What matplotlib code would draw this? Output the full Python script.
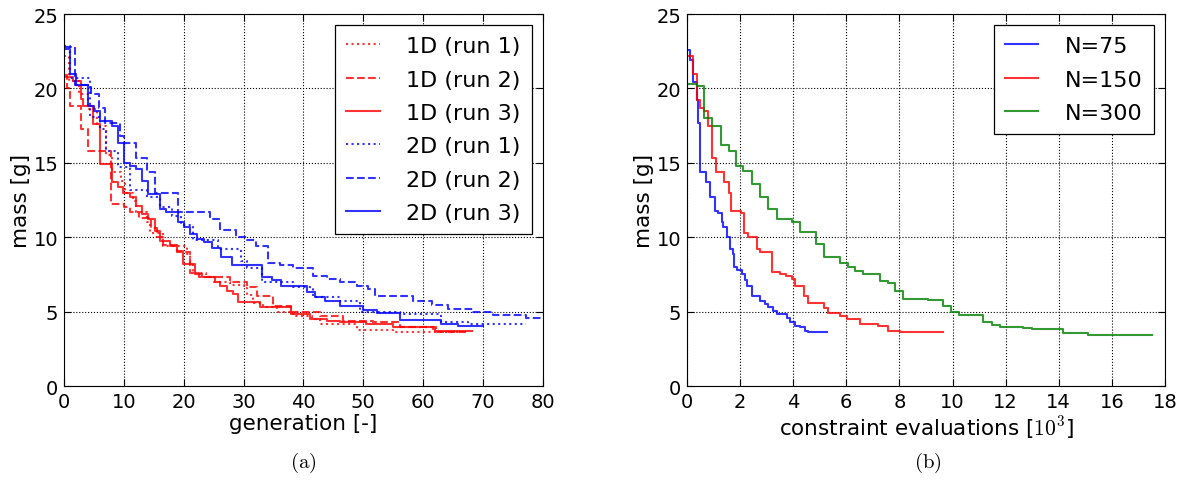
import matplotlib
matplotlib.use('Agg')
import matplotlib.pyplot as plt

plt.rcParams['mathtext.fontset'] = 'cm'

# (a) mass vs generation, 1D and 2D runs
gen_1d_r1 = [0, 0.8, 2.5, 4.0, 5.5, 7.0, 8.0, 9.5, 10.2, 11.5, 12.1, 13.8, 14.3, 16.6, 20.5, 21.0, 21.6,
             23.8, 25.0, 27.7, 30.0, 30.6, 31.5, 33.3, 35.5, 38.3, 41.5, 42.7, 49.0, 55.0, 66.0]
mass_1d_r1 = [22.2, 20.5, 19.6, 18.6, 17.5, 15.5, 14.4, 13.8, 13.0, 12.4, 11.7, 11.0, 10.3, 9.4, 8.9, 8.1, 7.6,
              7.3, 7.0, 6.8, 6.6, 6.1, 5.6, 5.3, 5.0, 4.7, 4.5, 4.15, 3.75, 3.6, 3.6]

gen_1d_r2 = [0, 0.5, 1.0, 2.9, 4.1, 7.9, 10.0, 11.0, 12.5, 14.5, 15.5, 16.5, 18.8, 21.0, 22.5, 27.7, 30.5,
             32.2, 34.9, 38.0, 42.7, 46.6, 51.6, 56.1, 62.2, 67.2]
mass_1d_r2 = [20.9, 20.0, 18.8, 17.3, 15.8, 12.2, 12.0, 11.7, 11.3, 10.6, 10.0, 9.5, 9.0, 7.6, 7.3, 7.0, 6.65,
              6.05, 5.4, 5.0, 4.7, 4.4, 4.3, 3.95, 3.6, 3.6]

gen_1d_r3 = [0, 1.5, 2.9, 3.2, 4.9, 6.0, 8.0, 9.1, 9.9, 11.0, 12.1, 13.0, 14.1, 15.2, 16.0, 17.7, 18.8, 19.9,
             21.9, 23.0, 25.2, 26.0, 27.2, 28.3, 29.1, 32.7, 38.0, 41.1, 43.9, 46.1, 50.5, 55.0, 61.7, 62.0, 68.1]
mass_1d_r3 = [20.8, 20.5, 19.3, 18.8, 17.6, 14.9, 13.7, 13.4, 13.0, 12.7, 12.1, 11.55, 11.2, 10.4, 9.75, 9.4,
              9.1, 8.2, 7.5, 7.3, 7.0, 6.7, 6.4, 6.2, 5.65, 5.3, 4.85, 4.5, 4.4, 4.3, 4.2, 3.95, 3.8, 3.7, 3.7]

gen_2d_r1 = [0, 1.0, 4.3, 6.0, 7.1, 9.1, 11.0, 13.8, 16.0, 18.0, 19.5, 21.5, 25.8, 29.5, 30.5, 33.0, 38.3,
             41.6, 46.1, 49.5, 56.1, 63.0, 67.5, 77.2]
mass_2d_r1 = [22.85, 20.7, 18.1, 17.3, 15.8, 14.7, 13.2, 12.7, 12.0, 11.4, 10.8, 9.8, 9.2, 8.4, 7.9, 7.0, 6.65,
              6.0, 5.7, 5.0, 4.85, 4.3, 4.2, 4.2]

gen_2d_r2 = [0, 1.8, 4.5, 5.8, 6.8, 9.4, 10.0, 12.0, 13.9, 15.2, 19.1, 24.4, 26.0, 28.8, 30.5, 32.0, 34.1,
             36.1, 38.3, 41.6, 43.9, 46.1, 48.9, 50.8, 51.9, 58.3, 61.4, 64.2, 68.3, 71.7, 77.2, 80.0]
mass_2d_r2 = [22.8, 20.2, 19.6, 18.7, 17.7, 16.8, 16.3, 15.3, 14.4, 13.0, 11.7, 11.2, 10.5, 10.0, 9.8, 9.4, 8.3,
              8.1, 7.9, 7.4, 7.2, 7.0, 6.7, 6.5, 6.05, 5.7, 5.45, 5.2, 4.95, 4.8, 4.55, 4.55]

gen_2d_r3 = [0, 1.0, 2.0, 4.1, 5.1, 6.0, 8.1, 9.1, 10.0, 11.0, 12.1, 13.0, 14.1, 16.0, 17.0, 19.1, 20.0, 21.0,
             22.3, 23.4, 24.8, 26.2, 28.1, 33.1, 34.8, 36.2, 40.6, 41.9, 43.6, 46.1, 50.0, 52.2, 56.1, 63.0,
             65.8, 70.0]
mass_2d_r3 = [22.65, 21.0, 20.2, 18.8, 18.5, 17.8, 17.5, 16.3, 15.0, 14.8, 14.6, 13.8, 12.9, 11.9, 11.7, 11.0,
              10.7, 10.2, 9.9, 9.7, 9.3, 8.7, 8.1, 7.3, 7.1, 6.7, 6.3, 6.0, 5.7, 5.4, 5.1, 4.9, 4.45, 4.2,
              4.05, 4.05]

# (b) mass vs constraint evaluations (thousands)
ev_75 = [0, 0.11, 0.24, 0.36, 0.43, 0.49, 0.72, 0.87, 1.05, 1.18, 1.31, 1.37, 1.49, 1.62, 1.72, 1.78, 1.89,
         2.06, 2.18, 2.25, 2.44, 2.75, 2.94, 3.06, 3.25, 3.38, 3.75, 3.88, 4.07, 4.25, 4.44, 4.57, 5.26]
mass_75 = [22.6, 21.9, 20.4, 19.2, 17.7, 14.4, 13.7, 12.7, 11.75, 11.6, 11.0, 10.7, 10.0, 9.2, 8.9, 8.0, 7.8,
           7.5, 7.1, 6.7, 6.05, 5.7, 5.5, 5.3, 5.05, 4.85, 4.6, 4.3, 4.05, 3.95, 3.7, 3.6, 3.6]

ev_150 = [0, 0.24, 0.38, 0.49, 0.64, 0.80, 0.95, 1.09, 1.41, 1.58, 1.66, 2.05, 2.16, 2.31, 2.62, 2.75, 3.19,
          3.5, 3.73, 3.94, 4.07, 4.42, 4.57, 5.17, 5.32, 5.76, 6.01, 6.51, 7.2, 7.58, 8.02, 9.64]
mass_150 = [22.2, 21.0, 19.2, 18.7, 18.5, 17.5, 15.3, 14.4, 13.7, 13.0, 11.75, 11.6, 10.3, 10.0, 9.2, 9.0, 7.65,
            7.55, 7.4, 7.2, 6.7, 6.05, 5.6, 5.25, 4.9, 4.7, 4.5, 4.17, 4.05, 3.7, 3.63, 3.63]

ev_300 = [0, 0.36, 0.64, 0.95, 1.27, 1.58, 1.84, 2.12, 2.44, 2.75, 3.06, 3.38, 3.94, 4.25, 4.86, 5.16, 5.76,
          6.07, 6.33, 6.64, 7.27, 7.58, 7.83, 8.14, 9.09, 9.65, 9.96, 10.25, 11.16, 11.47, 11.78, 12.66,
          12.98, 13.92, 14.17, 15.11, 17.5]
mass_300 = [20.3, 20.15, 18.0, 17.5, 16.2, 15.8, 14.8, 14.45, 13.6, 12.7, 11.9, 11.2, 11.0, 10.35, 9.55, 8.67,
            8.27, 8.0, 7.75, 7.5, 7.07, 6.95, 6.4, 5.85, 5.8, 5.4, 5.0, 4.77, 4.28, 4.1, 3.98, 3.9, 3.83,
            3.8, 3.54, 3.43, 3.43]

fig = plt.figure(figsize=(11.84, 4.81), dpi=100)
ax1 = fig.add_axes([0.054, 0.1954, 0.4046, 0.7734])
ax2 = fig.add_axes([0.5802, 0.1954, 0.4037, 0.7734])

a = 0.8
ax1.plot(gen_1d_r1, mass_1d_r1, ':', color='r', alpha=a, drawstyle='steps-post', label='1D (run 1)')
ax1.plot(gen_1d_r2, mass_1d_r2, '--', color='r', alpha=a, drawstyle='steps-post', label='1D (run 2)')
ax1.plot(gen_1d_r3, mass_1d_r3, '-', color='r', alpha=a, drawstyle='steps-post', label='1D (run 3)')
ax1.plot(gen_2d_r1, mass_2d_r1, ':', color='b', alpha=a, drawstyle='steps-post', label='2D (run 1)')
ax1.plot(gen_2d_r2, mass_2d_r2, '--', color='b', alpha=a, drawstyle='steps-post', label='2D (run 2)')
ax1.plot(gen_2d_r3, mass_2d_r3, '-', color='b', alpha=a, drawstyle='steps-post', label='2D (run 3)')

ax2.plot(ev_75, mass_75, '-', color='b', alpha=a, drawstyle='steps-post', label='N=75')
ax2.plot(ev_150, mass_150, '-', color='r', alpha=a, drawstyle='steps-post', label='N=150')
ax2.plot(ev_300, mass_300, '-', color=(0, 0.5, 0), alpha=a, drawstyle='steps-post', label='N=300')

ax1.set_xlim(0, 80)
ax2.set_xlim(0, 18)
ax2.set_xticks(range(0, 19, 2))
ax1.set_xlabel('generation [-]', fontsize=15.5, labelpad=2)
ax2.set_xlabel('constraint evaluations [$10^3$]', fontsize=15.5, labelpad=2)

for ax in (ax1, ax2):
    ax.set_ylim(0, 25)
    ax.set_ylabel('mass [g]', fontsize=15.5, labelpad=2)
    ax.grid(True, linestyle=':', color='k', linewidth=0.8)
    ax.tick_params(direction='in', top=True, right=True, length=5, labelsize=14, pad=4)
    for s in ax.spines.values():
        s.set_color('k')
    leg = ax.legend(loc='upper right', fontsize=16, fancybox=False, framealpha=1,
                    edgecolor='k', handlelength=1.5, handletextpad=1.2, labelspacing=0.6,
                    borderpad=0.5, borderaxespad=0.5)
    leg.get_frame().set_linewidth(0.9)

fig.text(0.256, 0.012, r'$\mathrm{(a)}$', ha='center', va='bottom', fontsize=15)
fig.text(0.784, 0.012, r'$\mathrm{(b)}$', ha='center', va='bottom', fontsize=15)

fig.savefig('out.png', dpi=100)
